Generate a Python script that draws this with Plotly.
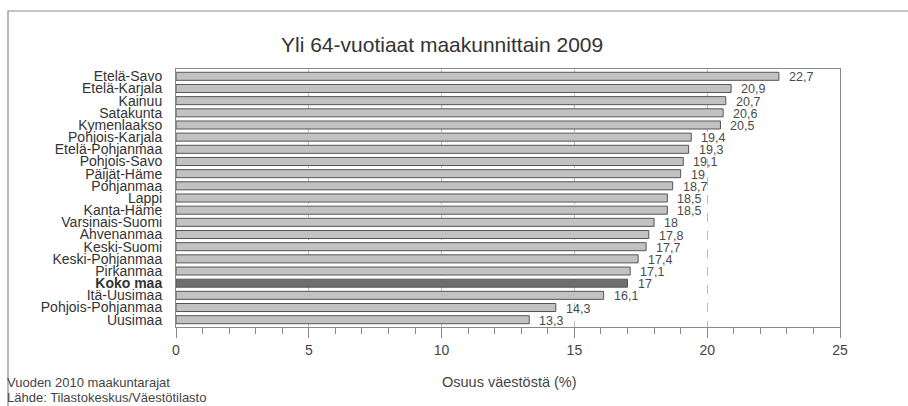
import plotly.graph_objects as go

regions = ["Etelä-Savo", "Etelä-Karjala", "Kainuu", "Satakunta", "Kymenlaakso",
           "Pohjois-Karjala", "Etelä-Pohjanmaa", "Pohjois-Savo", "Päijät-Häme",
           "Pohjanmaa", "Lappi", "Kanta-Häme", "Varsinais-Suomi", "Ahvenanmaa",
           "Keski-Suomi", "Keski-Pohjanmaa", "Pirkanmaa", "Koko maa", "Itä-Uusimaa",
           "Pohjois-Pohjanmaa", "Uusimaa"]
shares = [22.7, 20.9, 20.7, 20.6, 20.5, 19.4, 19.3, 19.1, 19.0, 18.7, 18.5, 18.5,
          18.0, 17.8, 17.7, 17.4, 17.1, 17.0, 16.1, 14.3, 13.3]
x_ticks = [0, 5, 10, 15, 20, 25]
highlight = "Koko maa"

W, H = 908, 406
L, R, T, B = 176, 68, 69, 79
pw, ph = W - L - R, H - T - B

def fmt(v):
    return ("%g" % v).replace(".", ",")

colors = ["#6e6e6e" if r == highlight else "#c2c2c2" for r in regions]
ticktext = ["<b>%s</b>" % r if r == highlight else r for r in regions]

fig = go.Figure()
fig.add_trace(go.Bar(
    x=shares, y=regions, orientation="h",
    marker=dict(color=colors, line=dict(color="#555555", width=1)),
    width=0.66, hoverinfo="skip",
))

FONT = "Liberation Sans, Arial"
annotations = []
for r, v in zip(regions, shares):
    annotations.append(dict(x=v, y=r, xref="x", yref="y", text=fmt(v), showarrow=False,
                            xanchor="left", xshift=8, yshift=-1,
                            font=dict(family=FONT, size=12.5, color="#4a4a4a")))

def px_x(p):
    return (p - L) / pw
def px_y(p):
    return (H - B - p) / ph

annotations += [
    dict(text="Yli 64-vuotiaat maakunnittain 2009", x=px_x(442), y=px_y(44), xref="paper", yref="paper",
         showarrow=False, xanchor="center", yanchor="middle",
         font=dict(family=FONT, size=21, color="#333333")),
    dict(text="Osuus väestöstä (%)", x=px_x(440), y=px_y(382), xref="paper", yref="paper",
         showarrow=False, xanchor="left", yanchor="middle",
         font=dict(family=FONT, size=14.5, color="#444444")),
    dict(text="Vuoden 2010 maakuntarajat", x=px_x(5), y=px_y(382), xref="paper", yref="paper",
         showarrow=False, xanchor="left", yanchor="middle",
         font=dict(family=FONT, size=13, color="#444444")),
    dict(text="Lähde: Tilastokeskus/Väestötilasto", x=px_x(5), y=px_y(397), xref="paper", yref="paper",
         showarrow=False, xanchor="left", yanchor="middle",
         font=dict(family=FONT, size=13, color="#444444")),
]

shapes = [
    dict(type="rect", xref="paper", yref="paper", x0=px_x(8), x1=px_x(930), y0=px_y(430), y1=px_y(11),
         line=dict(color="#8a8a8a", width=1.2), fillcolor="rgba(0,0,0,0)", layer="below"),
]

fig.update_layout(
    width=W, height=H, margin=dict(l=L, r=R, t=T, b=B),
    paper_bgcolor="white", plot_bgcolor="white",
    showlegend=False, bargap=0.3,
    annotations=annotations, shapes=shapes,
    font=dict(family=FONT, color="#333333"),
)
fig.update_xaxes(
    range=[0, 25], tickvals=x_ticks, ticktext=[str(t) for t in x_ticks],
    showgrid=True, gridcolor="#bdbdbd", griddash="dash", gridwidth=1,
    showline=True, linecolor="#8a8a8a", linewidth=1, mirror=True,
    ticks="outside", ticklen=10, tickcolor="#8a8a8a",
    minor=dict(ticks="outside", ticklen=6, dtick=1, tickcolor="#8a8a8a", showgrid=False),
    tickfont=dict(size=14, color="#444444"), zeroline=False,
)
fig.update_yaxes(
    categoryorder="array", categoryarray=regions[::-1],
    tickvals=regions, ticktext=ticktext, range=[-0.6, 20.6],
    showline=True, linecolor="#8a8a8a", linewidth=1, mirror=True,
    ticks="", ticklabelstandoff=10,
    tickfont=dict(size=14, color="#333333"),
)

fig.write_html("out.html", config={"displayModeBar": False},
               post_script="document.body.style.margin='0';document.body.style.padding='0';")
